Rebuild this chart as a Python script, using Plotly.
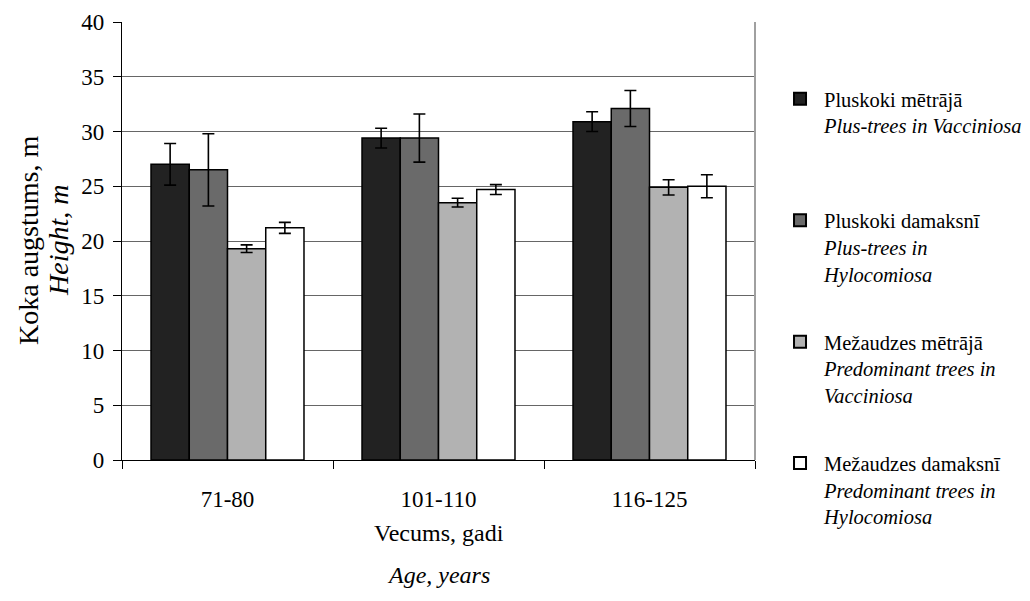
import plotly.graph_objects as go

categories = ["71-80", "101-110", "116-125"]
series_names = [
    "Pluskoki mētrājā<br><i>Plus-trees in Vacciniosa</i><br>&nbsp;",
    "Pluskoki damaksnī<br><i>Plus-trees in</i><br><i>Hylocomiosa</i>",
    "Mežaudzes mētrājā<br><i>Predominant trees in</i><br><i>Vacciniosa</i>",
    "Mežaudzes damaksnī<br><i>Predominant trees in</i><br><i>Hylocomiosa</i>",
]
plus_vacc = [27.0, 29.4, 30.9]
plus_vacc_err = [1.9, 0.9, 0.9]
plus_hylo = [26.5, 29.4, 32.1]
plus_hylo_err = [3.3, 2.2, 1.65]
pred_vacc = [19.3, 23.5, 24.9]
pred_vacc_err = [0.35, 0.4, 0.7]
pred_hylo = [21.2, 24.7, 25.0]
pred_hylo_err = [0.5, 0.45, 1.05]
y_ticks = [0, 5, 10, 15, 20, 25, 30, 35, 40]

colors = ["#222222", "#6a6a6a", "#b2b2b2", "#ffffff"]
values = [plus_vacc, plus_hylo, pred_vacc, pred_hylo]
errors = [plus_vacc_err, plus_hylo_err, pred_vacc_err, pred_hylo_err]

FONT = "Liberation Serif"
FS = 23
fig = go.Figure()
for i, (name, vals, errs, col) in enumerate(zip(series_names, values, errors, colors)):
    fig.add_trace(go.Bar(
        x=categories, y=vals, name=name, legendgroup=f"g{i}",
        marker=dict(color=col, line=dict(color="#000000", width=1.5)),
        error_y=dict(type="data", array=errs, visible=True,
                     color="#000000", thickness=1.6, width=6),
    ))

# page body has an 8px margin; compensate so the plot area lands where the reference has it
fig.update_layout(
    width=1022, height=593,
    margin=dict(l=114, r=275, t=14, b=141, autoexpand=False),
    paper_bgcolor="white", plot_bgcolor="white",
    barmode="group", bargap=0.275, bargroupgap=0,
    font=dict(family=FONT, size=FS, color="#000000"),
    showlegend=True,
    legend=dict(x=1.0332, y=0.870, xanchor="left", yanchor="top",
                valign="top", font=dict(family=FONT, size=20.5),
                traceorder="grouped", tracegroupgap=38.5,
                itemwidth=38, itemsizing="constant", maxheight=580,
                bgcolor="rgba(0,0,0,0)"),
    xaxis=dict(showline=True, linecolor="#000000", linewidth=1.2,
               ticks="outside", tickson="boundaries", ticklen=8,
               tickcolor="#000000", ticklabelstandoff=18,
               showgrid=False, zeroline=False,
               tickfont=dict(family=FONT, size=FS)),
    yaxis=dict(range=[0, 40], tickvals=y_ticks, showline=True,
               linecolor="#000000", linewidth=1.2,
               ticks="outside", ticklen=8, tickcolor="#000000",
               showgrid=True, gridcolor="#666666", gridwidth=1.2,
               zeroline=False, ticklabelstandoff=4,
               tickfont=dict(family=FONT, size=FS)),
)

fig.add_shape(type="line", xref="paper", yref="paper", x0=1, x1=1, y0=0, y1=1,
              line=dict(color="#a0a0a0", width=2))

fig.add_annotation(text="Vecums, gadi", xref="paper", yref="paper", x=0.5, y=0,
                   yshift=-73, showarrow=False, xanchor="center", yanchor="middle",
                   font=dict(family=FONT, size=24))
fig.add_annotation(text="<i>Age, years</i>", xref="paper", yref="paper", x=0.5, y=0,
                   yshift=-115, showarrow=False, xanchor="center", yanchor="middle",
                   font=dict(family=FONT, size=24))
fig.add_annotation(text="Koka augstums, m", xref="paper", yref="paper", x=0, y=0.5,
                   xshift=-94, textangle=-90, showarrow=False, xanchor="center",
                   yanchor="middle", font=dict(family=FONT, size=28))
fig.add_annotation(text="<i>Height, m</i>", xref="paper", yref="paper", x=0, y=0.5,
                   xshift=-64, textangle=-90, showarrow=False, xanchor="center",
                   yanchor="middle", font=dict(family=FONT, size=28))

fig.write_html("out.html")
